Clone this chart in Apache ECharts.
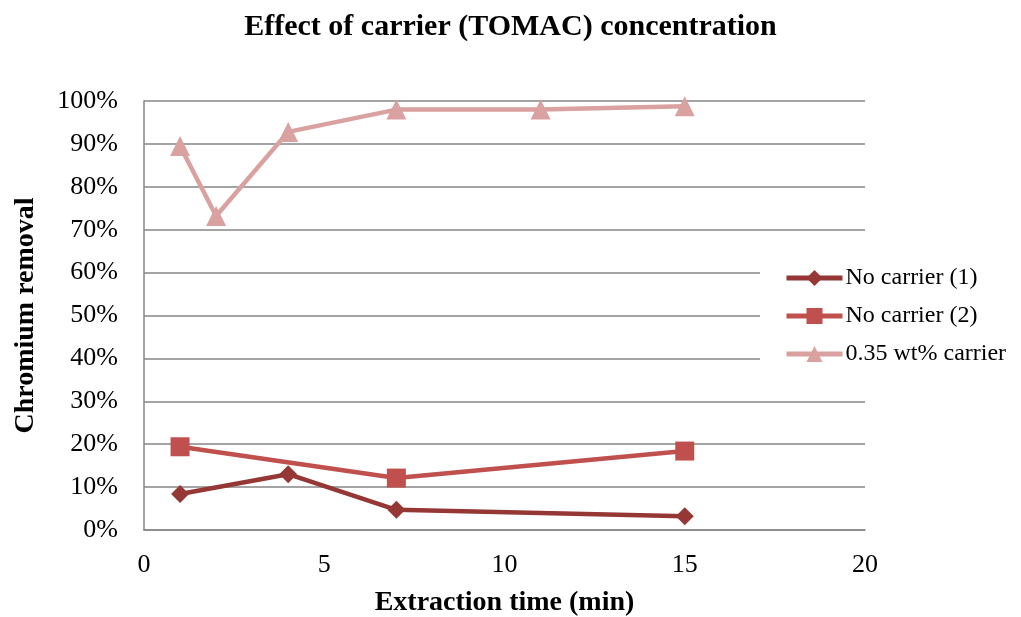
<!DOCTYPE html>
<html>
<head>
<meta charset="utf-8">
<script src="https://cdn.jsdelivr.net/npm/echarts@6/dist/echarts.min.js"></script>
<style>
  html, body { margin: 0; padding: 0; background: #ffffff; }
  #chart { width: 1021px; height: 617px; }
</style>
</head>
<body>
<div id="chart"></div>
<script>
// Extraction time (min) and chromium removal (fraction) per run
const seriesNames = ['No carrier (1)', 'No carrier (2)', '0.35 wt% carrier'];
const timeNoCarrier1 = [1, 4, 7, 15];
const removalNoCarrier1 = [0.084, 0.130, 0.047, 0.032];
const timeNoCarrier2 = [1, 7, 15];
const removalNoCarrier2 = [0.194, 0.121, 0.184];
const timeCarrier = [1, 2, 4, 7, 11, 15];
const removalCarrier = [0.895, 0.732, 0.928, 0.980, 0.980, 0.988];

const xTicks = [0, 5, 10, 15, 20];
const yTicks = [0, 0.1, 0.2, 0.3, 0.4, 0.5, 0.6, 0.7, 0.8, 0.9, 1.0];

const pair = (xs, ys) => xs.map((x, i) => [x, ys[i]]);
const FONT = '"Liberation Serif", "DejaVu Serif", serif';
const AXIS_GRAY = '#868686';

const chart = echarts.init(document.getElementById('chart'), null, { renderer: 'canvas' });

chart.setOption({
  backgroundColor: '#ffffff',
  animation: false,
  textStyle: { fontFamily: FONT, color: '#000' },
  title: {
    text: 'Effect of carrier (TOMAC) concentration',
    left: 'center',
    top: 7,
    textStyle: { fontFamily: FONT, fontSize: 30, fontWeight: 'bold', color: '#000' }
  },
  grid: { left: 144, right: 156, top: 101, bottom: 87, outerBoundsMode: 'none', containLabel: false },
  xAxis: {
    type: 'value',
    min: xTicks[0],
    max: xTicks[xTicks.length - 1],
    interval: xTicks[1] - xTicks[0],
    name: 'Extraction time (min)',
    nameLocation: 'middle',
    nameGap: 59,
    nameTextStyle: { fontFamily: FONT, fontSize: 28, fontWeight: 'bold', color: '#000' },
    axisLine: { show: true, lineStyle: { color: AXIS_GRAY, width: 1.5 } },
    axisTick: { show: false },
    splitLine: { show: false },
    axisLabel: { fontFamily: FONT, fontSize: 26, color: '#000', margin: 22 }
  },
  yAxis: {
    type: 'value',
    min: yTicks[0],
    max: yTicks[yTicks.length - 1],
    interval: 0.1,
    name: 'Chromium removal',
    nameLocation: 'middle',
    nameGap: 104,
    nameRotate: 90,
    nameTextStyle: { fontFamily: FONT, fontSize: 28, fontWeight: 'bold', color: '#000' },
    axisLine: { show: true, lineStyle: { color: AXIS_GRAY, width: 1.5 } },
    axisTick: { show: false },
    splitLine: { show: true, lineStyle: { color: AXIS_GRAY, width: 1.5 } },
    axisLabel: {
      fontFamily: FONT, fontSize: 26, color: '#000', margin: 26,
      formatter: v => Math.round(v * 100) + '%'
    }
  },
  legend: {
    orient: 'vertical',
    left: 760,
    top: 260,
    padding: [6, 4, 6, 24],
    backgroundColor: '#ffffff',
    itemWidth: 56,
    itemHeight: 20,
    itemGap: 14,
    data: seriesNames,
    lineStyle: { width: 5 },
    textStyle: { fontFamily: FONT, fontSize: 24, color: '#000', padding: [0, 0, 0, -2] }
  },
  series: [
    {
      name: seriesNames[0],
      type: 'line',
      data: pair(timeNoCarrier1, removalNoCarrier1),
      symbol: 'diamond',
      symbolSize: 18,
      color: '#953735',
      lineStyle: { width: 4.5, color: '#953735' },
      itemStyle: { color: '#953735' },
      z: 3
    },
    {
      name: seriesNames[1],
      type: 'line',
      data: pair(timeNoCarrier2, removalNoCarrier2),
      symbol: 'rect',
      symbolSize: 19,
      color: '#C0504D',
      lineStyle: { width: 4.5, color: '#C0504D' },
      itemStyle: { color: '#C0504D' },
      z: 2
    },
    {
      name: seriesNames[2],
      type: 'line',
      data: pair(timeCarrier, removalCarrier),
      symbol: 'triangle',
      symbolSize: 20,
      color: '#D9A19F',
      lineStyle: { width: 4.5, color: '#D9A19F' },
      itemStyle: { color: '#D9A19F' },
      z: 2
    }
  ]
});
</script>
</body>
</html>
